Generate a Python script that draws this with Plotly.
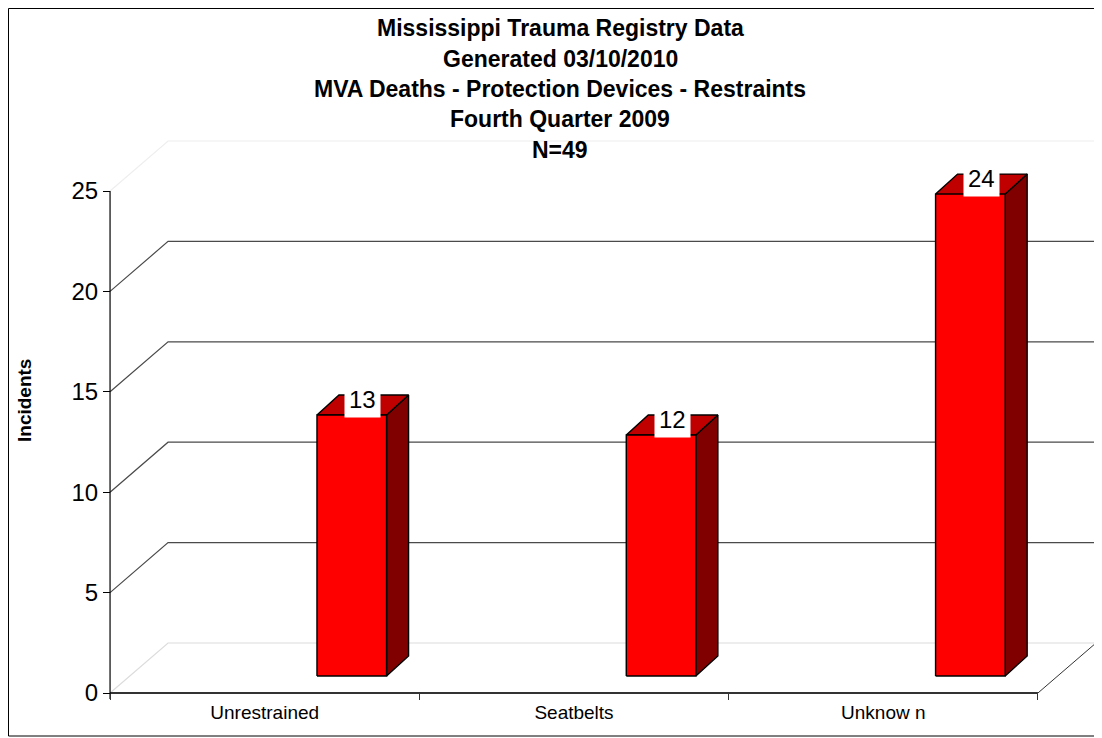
import plotly.graph_objects as go

# data
categories = ["Unrestrained", "Seatbelts", "Unknow n"]
incidents = [13, 12, 24]
y_ticks = [0, 5, 10, 15, 20, 25]
title_lines = [
    "Mississippi Trauma Registry Data",
    "Generated 03/10/2010",
    "MVA Deaths - Protection Devices - Restraints",
    "Fourth Quarter 2009",
    "N=49",
]

W, H = 1102, 738
OFF = 8   # the page body margin shifts the figure by this much
FONT = "Liberation Sans, Arial, sans-serif"

# pixel scale of the pseudo-3D drawing
X_UNIT, X0_PX = 309.3, 264.7 - OFF   # px per category, front centre of first category
Y_UNIT, Y0_PX = 20.08, 693 - OFF     # px per incident, front floor line
WALL_DX, WALL_DY = 58 / X_UNIT, 50 / Y_UNIT     # depth of the box
BAR_LEFT, BAR_W = 0.169, 0.225                   # bar front face, category units
BAR_BASE = 17 / Y_UNIT
BAR_DX, BAR_DY = 22 / X_UNIT, 20 / Y_UNIT        # depth of a bar

x_min, x_max = -0.5, len(categories) - 0.5
y_top = y_ticks[-1]


def px(p):
    return (p - OFF) / W


def py(p):
    return 1 - (p - OFF) / H


fig = go.Figure()


def line(xs, ys, color, width=1.0):
    fig.add_trace(go.Scatter(x=xs, y=ys, mode="lines", line=dict(color=color, width=width),
                             hoverinfo="skip", showlegend=False))


def face(xs, ys, color):
    fig.add_trace(go.Scatter(x=xs + xs[:1], y=ys + ys[:1], mode="lines", fill="toself",
                             fillcolor=color, line=dict(color="black", width=1.4),
                             hoverinfo="skip", showlegend=False))


# back wall gridlines and side wall diagonals
for v in y_ticks:
    c = "#dcdcdc" if v == 0 else ("#eeeeee" if v == y_top else "#4a4a4a")
    line([x_min, x_min + WALL_DX, x_max + WALL_DX], [v, v + WALL_DY, v + WALL_DY], c, 1.2)

# floor edges and front value axis
line([x_max, x_max + WALL_DX], [0, WALL_DY], "#333333", 1.0)
line([x_min, x_max], [0, 0], "#333333", 2.0)
line([x_min, x_min], [-6 / Y_UNIT, y_top], "black", 1.2)

# bars
for i, v in enumerate(incidents):
    x0 = i + BAR_LEFT
    x1 = x0 + BAR_W
    b, t = BAR_BASE, BAR_BASE + v
    face([x1, x1 + BAR_DX, x1 + BAR_DX, x1], [b, b + BAR_DY, t + BAR_DY, t], "#800000")
    face([x0, x1, x1 + BAR_DX, x0 + BAR_DX], [t, t, t + BAR_DY, t + BAR_DY], "#c00000")
    face([x0, x1, x1, x0], [b, b, t, t], "#ff0000")
    fig.add_annotation(x=x0 + BAR_W / 2 + BAR_DX / 2, y=t, xref="x", yref="y",
                       text=str(v), showarrow=False, yanchor="bottom", yshift=-3,
                       bgcolor="white", borderpad=4,
                       font=dict(family=FONT, size=24, color="black"))

# title
for k, s in enumerate(title_lines):
    fig.add_annotation(x=px(560), y=py(28 + 30.5 * k), xref="paper", yref="paper",
                       text=f"<b>{s}</b>", showarrow=False,
                       xanchor="center", yanchor="middle",
                       font=dict(family=FONT, size=23, color="black"))

fig.add_annotation(x=px(25), y=py(401), xref="paper", yref="paper",
                   text="<b>Incidents</b>", textangle=-90, showarrow=False,
                   xanchor="center", yanchor="middle",
                   font=dict(family=FONT, size=19, color="black"))

# chart border
fig.add_shape(type="rect", xref="paper", yref="paper",
              x0=0.5 / W, y0=py(736), x1=px(1100), y1=1 - 0.5 / H,
              line=dict(color="black", width=1))

fig.update_layout(
    width=W, height=H,
    margin=dict(l=0, r=0, t=0, b=0),
    paper_bgcolor="white", plot_bgcolor="white",
    showlegend=False,
    xaxis=dict(range=[-X0_PX / X_UNIT, (W - X0_PX) / X_UNIT],
               anchor="free", position=(H - Y0_PX) / H,
               tickvals=list(range(len(categories))), ticktext=categories,
               ticks="", ticklabelstandoff=6,
               minor=dict(tickvals=[x_min + k for k in range(len(categories) + 1)],
                          ticks="outside", ticklen=6, tickcolor="#333333", tickwidth=1),
               showgrid=False, zeroline=False, showline=False, automargin=False,
               tickfont=dict(family=FONT, size=19, color="black"), fixedrange=True),
    yaxis=dict(range=[(Y0_PX - H) / Y_UNIT, Y0_PX / Y_UNIT],
               anchor="free", position=px(110),
               tickvals=y_ticks, ticks="outside", ticklen=7, tickcolor="black",
               showgrid=False, zeroline=False, showline=False, automargin=False,
               tickfont=dict(family=FONT, size=24, color="black"), fixedrange=True),
)

fig.write_html("out.html")
